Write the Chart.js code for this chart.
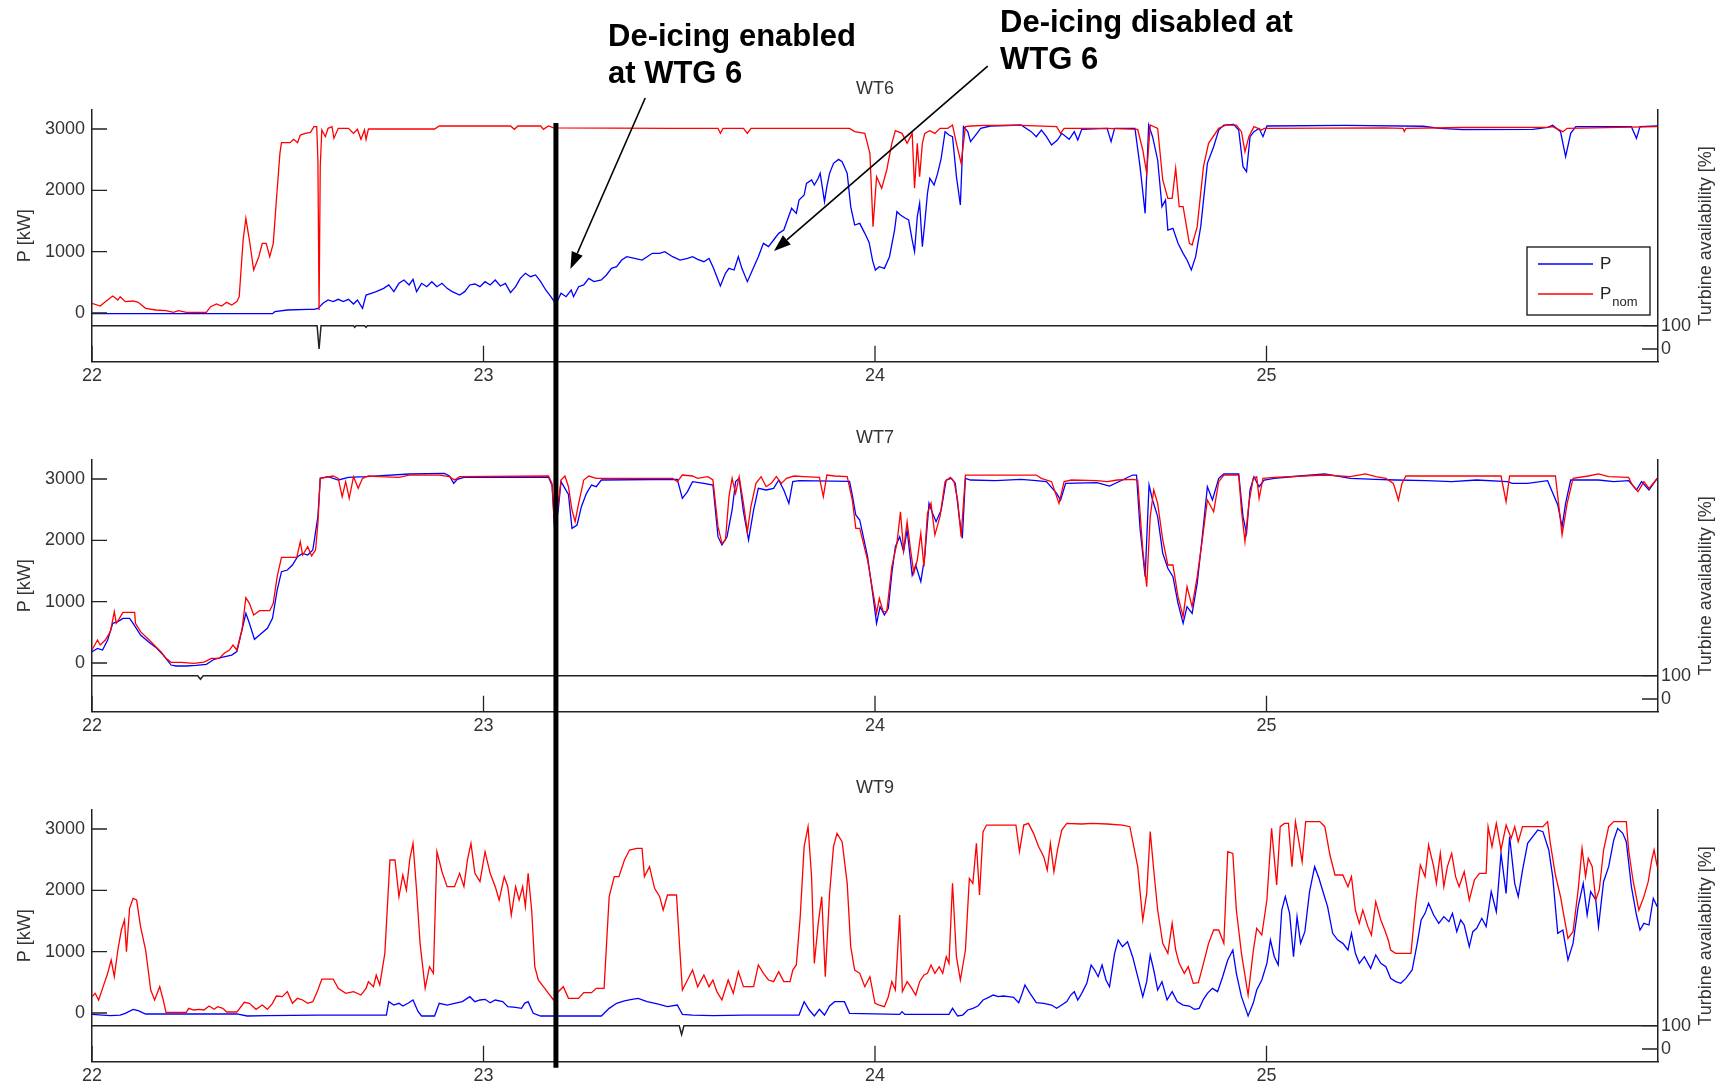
<!DOCTYPE html>
<html>
<head>
<meta charset="utf-8">
<title>WT6 / WT7 / WT9 power and availability</title>
<script src="https://cdn.jsdelivr.net/npm/chart.js@4.4.1/dist/chart.umd.min.js"></script>
<style>
  html, body { margin: 0; padding: 0; background: #fff; }
  #page { position: relative; width: 1729px; height: 1088px; overflow: hidden; }
  canvas { position: absolute; left: 0; }
</style>
</head>
<body>
<div id="page">
  <canvas id="wt6" width="1729" height="388" style="top:0px"></canvas>
  <canvas id="wt7" width="1729" height="350" style="top:388px"></canvas>
  <canvas id="wt9" width="1729" height="350" style="top:738px"></canvas>
</div>
<script>
// time axis in days, power in kW, availability in %
const dayTicks = [22, 23, 24, 25];
const powerTicks = [0, 1000, 2000, 3000];
const availTicks = [0, 100];
const deicingDay = 23.185;

// WT6
const wt6Pnom = [
  [22.000,158],[22.021,114],[22.034,185],[22.053,277],[22.066,212],[22.072,266],[22.085,185],[22.105,196],[22.118,174],
  [22.137,76],[22.163,49],[22.189,38],[22.208,11],[22.221,38],[22.241,11],[22.292,11],[22.303,103],[22.318,147],
  [22.331,114],[22.344,174],[22.357,130],[22.370,185],[22.376,266],[22.386,1190],[22.393,1544],[22.402,1190],[22.413,701],
  [22.426,918],[22.435,1136],[22.445,1136],[22.454,918],[22.463,1136],[22.471,1842],[22.480,2603],[22.484,2777],[22.506,2777],
  [22.515,2832],[22.525,2777],[22.532,2902],[22.545,2929],[22.558,2946],[22.567,3038],[22.574,3038],[22.577,2495],[22.580,49],
  [22.583,2386],[22.587,2984],[22.596,2875],[22.603,3011],[22.613,3038],[22.618,2848],[22.629,3011],[22.655,3011],[22.668,2929],
  [22.678,2995],[22.687,2832],[22.696,2984],[22.700,2832],[22.706,3000],[22.875,3000],[22.887,3049],[23.069,3049],[23.079,2995],
  [23.088,3049],[23.146,3049],[23.153,2995],[23.166,3049],[23.179,3020],[23.483,3011],[23.599,3011],[23.605,2929],[23.612,3011],
  [23.664,3011],[23.674,2929],[23.683,3011],[23.935,3011],[23.948,2957],[23.974,2929],[23.987,2603],[23.995,1408],[24.004,2223],
  [24.017,2033],[24.030,2332],[24.043,2766],[24.052,2973],[24.069,2929],[24.082,2766],[24.095,2929],[24.101,2033],[24.108,2766],
  [24.114,2223],[24.121,2766],[24.127,2929],[24.140,2973],[24.153,2929],[24.166,3011],[24.186,3011],[24.198,3065],[24.208,2766],
  [24.220,2440],[24.231,3038],[24.244,3049],[24.283,3060],[24.373,3060],[24.464,3038],[24.474,2929],[24.483,3011],[24.593,3011],
  [24.671,2995],[24.684,2658],[24.694,2277],[24.703,3065],[24.722,3011],[24.735,2169],[24.748,1870],[24.759,1870],[24.768,2359],
  [24.777,1734],[24.787,1734],[24.803,1136],[24.810,1109],[24.823,1408],[24.839,2386],[24.852,2766],[24.878,3011],[24.897,3065],
  [24.923,3065],[24.936,2957],[24.945,2631],[24.955,2875],[24.968,3038],[24.988,2984],[24.994,3011],[25.300,3020],[25.349,3011],
  [25.352,2960],[25.356,3011],[25.500,3025],[25.718,3027],[25.731,3038],[25.757,2957],[25.768,3011],[25.998,3038]
];
const wt6P = [
  [22.000,-11],[22.461,-11],[22.467,22],[22.499,49],[22.551,60],[22.567,60],[22.577,76],[22.590,158],[22.603,212],[22.616,185],
  [22.629,223],[22.642,185],[22.655,223],[22.668,147],[22.678,212],[22.691,76],[22.700,293],[22.713,321],[22.726,348],[22.745,402],
  [22.758,457],[22.771,348],[22.784,484],[22.797,538],[22.810,457],[22.820,549],[22.829,348],[22.842,484],[22.855,429],[22.868,511],
  [22.881,429],[22.894,484],[22.907,402],[22.920,348],[22.939,293],[22.952,348],[22.965,457],[22.978,473],[22.991,429],[23.004,511],
  [23.017,457],[23.030,538],[23.043,440],[23.056,484],[23.069,332],[23.082,429],[23.094,565],[23.107,647],[23.120,592],[23.133,620],
  [23.146,511],[23.159,375],[23.172,266],[23.185,147],[23.198,321],[23.211,266],[23.224,375],[23.230,266],[23.243,429],[23.256,457],
  [23.269,565],[23.282,511],[23.301,538],[23.314,620],[23.327,728],[23.340,755],[23.353,864],[23.366,918],[23.386,891],[23.405,864],
  [23.418,918],[23.431,973],[23.450,973],[23.463,1000],[23.483,918],[23.502,864],[23.521,891],[23.534,918],[23.547,875],[23.563,837],
  [23.576,891],[23.586,755],[23.596,592],[23.605,440],[23.618,647],[23.627,728],[23.640,701],[23.651,918],[23.660,728],[23.674,511],
  [23.687,701],[23.702,918],[23.715,1136],[23.728,1082],[23.741,1190],[23.754,1299],[23.767,1353],[23.787,1707],[23.799,1625],
  [23.806,1842],[23.819,1924],[23.825,2114],[23.838,2169],[23.845,2087],[23.855,2196],[23.860,2277],[23.871,1815],[23.877,2060],
  [23.884,2277],[23.894,2440],[23.907,2505],[23.916,2467],[23.929,2277],[23.938,1734],[23.948,1435],[23.961,1462],[23.974,1299],
  [23.985,1150],[23.994,850],[24.001,701],[24.011,755],[24.024,728],[24.037,918],[24.050,1353],[24.056,1652],[24.065,1598],
  [24.078,1544],[24.086,1516],[24.095,1190],[24.101,1000],[24.108,1570],[24.114,1788],[24.121,1082],[24.127,1462],[24.134,1951],
  [24.140,2196],[24.151,2087],[24.160,2277],[24.169,2522],[24.179,2957],[24.189,2902],[24.198,2875],[24.208,2223],[24.218,1761],
  [24.226,3038],[24.237,2957],[24.244,2794],[24.257,2902],[24.270,3011],[24.295,3049],[24.373,3065],[24.399,2957],[24.412,2875],
  [24.425,2984],[24.438,2875],[24.451,2739],[24.466,2821],[24.477,2929],[24.496,2832],[24.509,2957],[24.518,2821],[24.528,2995],
  [24.593,3011],[24.603,2794],[24.612,3011],[24.664,3011],[24.677,2386],[24.690,1625],[24.699,3065],[24.709,2875],[24.722,2495],
  [24.733,1734],[24.742,1842],[24.748,1353],[24.761,1380],[24.774,1136],[24.787,973],[24.797,864],[24.808,701],[24.819,918],
  [24.832,1408],[24.849,2440],[24.865,2712],[24.878,2984],[24.891,3065],[24.916,3076],[24.929,2984],[24.940,2386],[24.949,2304],
  [24.958,2875],[24.968,2957],[24.981,3011],[24.991,2875],[25.001,3049],[25.200,3060],[25.400,3045],[25.443,3011],[25.500,2990],
  [25.680,2995],[25.718,3027],[25.731,3060],[25.751,2957],[25.764,2549],[25.777,2929],[25.790,3038],[25.932,3038],[25.945,2848],
  [25.954,3038],[25.998,3049]
];
const wt6Avail = [[22,100],[22.575,100],[22.580,0],[22.585,100],[22.668,100],[22.671,93],[22.674,100],[22.696,100],[22.700,93],[22.703,100],[26,100]];

// WT7
const wt7Pnom = [
  [22.000,212],[22.014,375],[22.021,293],[22.034,375],[22.047,511],[22.057,837],[22.062,647],[22.070,728],[22.079,826],[22.109,826],
  [22.111,647],[22.124,511],[22.144,386],[22.163,266],[22.176,185],[22.189,76],[22.202,11],[22.228,11],[22.260,-5],[22.286,16],
  [22.305,76],[22.325,76],[22.338,158],[22.351,212],[22.360,293],[22.370,212],[22.383,538],[22.393,1065],[22.402,973],[22.413,783],
  [22.428,853],[22.454,853],[22.463,973],[22.473,1408],[22.484,1723],[22.523,1723],[22.532,1978],[22.538,1761],[22.551,1897],
  [22.561,1745],[22.571,1842],[22.577,2277],[22.583,3011],[22.616,3049],[22.629,3011],[22.639,2712],[22.648,2957],[22.657,2685],
  [22.668,3038],[22.680,2848],[22.691,3011],[22.706,3049],[22.732,3038],[22.784,3027],[22.810,3065],[22.887,3065],[22.913,3038],
  [22.926,2984],[22.939,3038],[23.166,3049],[23.175,2929],[23.182,2200],[23.191,2600],[23.198,2984],[23.208,3049],[23.217,2875],
  [23.226,2495],[23.234,2304],[23.243,2603],[23.256,2984],[23.269,3049],[23.288,3011],[23.483,3011],[23.495,2957],[23.508,3065],
  [23.534,3049],[23.547,3011],[23.573,3038],[23.586,2984],[23.599,2223],[23.609,1951],[23.618,2006],[23.627,2712],[23.635,3011],
  [23.644,2766],[23.653,3038],[23.664,2603],[23.674,2141],[23.683,2549],[23.696,2929],[23.709,3038],[23.722,2875],[23.735,2929],
  [23.748,3038],[23.761,2929],[23.774,3011],[23.793,3049],[23.819,3038],[23.858,3027],[23.868,2712],[23.877,3065],[23.897,3049],
  [23.929,3038],[23.942,2658],[23.951,2196],[23.961,2196],[23.981,1679],[23.994,1190],[24.004,810],[24.011,1054],[24.021,837],
  [24.030,837],[24.043,1571],[24.056,1951],[24.065,2467],[24.073,1842],[24.082,2304],[24.091,1842],[24.099,1462],[24.108,1679],
  [24.117,2114],[24.125,1571],[24.134,2440],[24.143,2603],[24.153,2087],[24.166,2386],[24.179,2957],[24.192,3027],[24.202,2957],
  [24.211,2658],[24.220,2060],[24.231,3065],[24.412,3065],[24.425,3011],[24.451,2957],[24.470,2603],[24.483,2957],[24.502,2984],
  [24.567,2973],[24.593,2957],[24.619,2984],[24.658,2995],[24.671,2984],[24.684,1842],[24.694,1245],[24.703,2386],[24.712,2821],
  [24.722,2603],[24.735,2006],[24.748,1598],[24.761,1598],[24.774,1082],[24.787,755],[24.797,1245],[24.810,918],[24.823,1408],
  [24.836,2006],[24.849,2658],[24.865,2467],[24.878,2957],[24.891,3065],[24.929,3065],[24.936,2495],[24.945,1978],[24.955,2603],
  [24.966,3011],[24.975,3038],[24.981,2685],[24.991,3011],[25.020,3027],[25.149,3065],[25.214,3038],[25.253,3082],[25.279,3038],
  [25.305,3011],[25.324,2929],[25.337,2657],[25.346,2929],[25.356,3049],[25.599,3049],[25.612,2630],[25.621,3049],[25.738,3049],
  [25.747,2549],[25.755,2087],[25.768,2603],[25.783,3011],[25.822,3049],[25.848,3082],[25.874,3038],[25.925,3027],[25.932,2929],
  [25.949,2794],[25.964,2957],[25.977,2848],[25.998,3011]
];
const wt7P = [
  [22.000,185],[22.014,239],[22.027,212],[22.040,375],[22.053,647],[22.066,674],[22.079,728],[22.096,728],[22.105,647],[22.124,457],
  [22.144,348],[22.163,255],[22.182,130],[22.202,-33],[22.215,-49],[22.241,-49],[22.266,-38],[22.292,-22],[22.312,60],[22.331,92],
  [22.357,130],[22.370,185],[22.383,538],[22.393,810],[22.402,647],[22.415,386],[22.428,457],[22.448,565],[22.461,728],[22.473,1190],
  [22.484,1489],[22.499,1516],[22.512,1598],[22.525,1734],[22.538,1788],[22.551,1761],[22.564,1842],[22.577,2386],[22.583,3011],
  [22.603,3038],[22.629,2984],[22.655,3027],[22.700,3038],[22.810,3082],[22.900,3092],[22.913,3049],[22.924,2929],[22.933,2995],
  [22.950,3027],[23.166,3027],[23.175,2900],[23.182,2150],[23.191,2500],[23.198,2957],[23.217,2747],[23.226,2196],[23.239,2250],
  [23.250,2549],[23.263,2766],[23.276,2902],[23.288,2875],[23.301,2984],[23.495,2995],[23.508,2685],[23.521,2794],[23.534,2957],
  [23.563,2929],[23.586,2902],[23.599,2060],[23.609,1924],[23.622,2060],[23.635,2495],[23.644,2957],[23.653,3011],[23.664,2467],
  [23.677,2006],[23.690,2495],[23.702,2848],[23.722,2821],[23.741,2848],[23.754,2984],[23.767,2821],[23.780,2603],[23.790,2957],
  [23.806,2973],[23.935,2962],[23.942,2739],[23.951,2413],[23.961,2332],[23.981,1734],[23.994,1136],[24.004,647],[24.013,918],
  [24.024,783],[24.034,891],[24.043,1462],[24.052,1897],[24.063,2060],[24.073,1815],[24.082,2169],[24.095,1435],[24.104,1598],
  [24.117,1326],[24.127,1734],[24.138,2603],[24.147,2440],[24.156,2304],[24.169,2495],[24.182,2984],[24.195,3011],[24.205,2929],
  [24.215,2386],[24.223,2033],[24.231,3011],[24.244,2984],[24.308,2973],[24.373,2995],[24.412,2973],[24.438,2957],[24.464,2766],
  [24.474,2657],[24.487,2929],[24.567,2940],[24.599,2886],[24.632,2984],[24.658,3065],[24.668,3065],[24.677,2196],[24.690,1408],
  [24.700,2902],[24.709,2658],[24.722,2386],[24.735,1788],[24.748,1544],[24.761,1408],[24.774,973],[24.787,647],[24.797,918],
  [24.810,810],[24.823,1299],[24.836,2060],[24.849,2875],[24.862,2658],[24.878,3011],[24.891,3082],[24.929,3082],[24.940,2386],
  [24.949,2114],[24.958,2821],[24.968,3038],[24.981,2875],[24.994,2984],[25.020,3011],[25.085,3049],[25.149,3082],[25.214,3011],
  [25.279,2995],[25.330,2984],[25.408,2973],[25.473,2957],[25.537,2984],[25.615,2957],[25.628,2929],[25.667,2929],[25.718,2973],
  [25.744,2576],[25.755,2223],[25.764,2603],[25.777,2984],[25.848,2984],[25.887,2957],[25.925,2973],[25.945,2821],[25.958,2957],
  [25.977,2821],[25.998,3011]
];
const wt7Avail = [[22,100],[22.270,100],[22.277,85],[22.284,100],[26,100]];

// WT9
const wt9Pnom = [
  [22.000,266],[22.008,321],[22.017,212],[22.027,402],[22.040,647],[22.049,864],[22.057,592],[22.066,1027],[22.075,1353],[22.083,1516],
  [22.088,1000],[22.096,1707],[22.105,1870],[22.114,1842],[22.124,1408],[22.137,1027],[22.150,375],[22.160,212],[22.173,429],[22.182,212],
  [22.189,11],[22.241,11],[22.247,76],[22.260,49],[22.273,60],[22.286,49],[22.299,114],[22.312,60],[22.321,103],[22.334,76],[22.344,16],
  [22.370,16],[22.389,174],[22.402,158],[22.419,60],[22.435,130],[22.448,60],[22.461,158],[22.471,277],[22.486,266],[22.499,348],
  [22.512,158],[22.525,239],[22.538,212],[22.551,158],[22.564,185],[22.577,375],[22.587,554],[22.616,554],[22.629,402],[22.648,321],
  [22.668,348],[22.687,293],[22.700,402],[22.706,511],[22.719,429],[22.726,620],[22.735,457],[22.748,973],[22.761,2495],[22.774,2495],
  [22.784,1897],[22.794,2250],[22.803,2006],[22.812,2522],[22.820,2766],[22.829,2006],[22.838,1136],[22.851,402],[22.862,755],
  [22.872,647],[22.881,2630],[22.894,2304],[22.907,2060],[22.926,2060],[22.939,2277],[22.950,2060],[22.959,2495],[22.968,2766],
  [22.978,2277],[22.991,2141],[23.004,2630],[23.017,2277],[23.030,2060],[23.040,1842],[23.053,2223],[23.062,2060],[23.071,1598],
  [23.082,2060],[23.091,1842],[23.100,2060],[23.107,1734],[23.114,2277],[23.123,1679],[23.131,755],[23.140,538],[23.153,429],
  [23.166,321],[23.179,212],[23.191,348],[23.204,429],[23.217,239],[23.243,239],[23.256,332],[23.276,332],[23.288,402],[23.308,402],
  [23.321,1897],[23.334,2223],[23.346,2223],[23.360,2495],[23.373,2657],[23.392,2685],[23.405,2685],[23.411,2223],[23.424,2386],
  [23.437,2033],[23.450,1897],[23.459,1679],[23.470,1924],[23.493,1924],[23.502,973],[23.508,375],[23.521,538],[23.534,701],
  [23.547,429],[23.563,620],[23.576,429],[23.586,538],[23.596,348],[23.609,212],[23.625,538],[23.638,321],[23.651,675],[23.664,429],
  [23.690,429],[23.702,783],[23.715,647],[23.728,538],[23.741,511],[23.754,675],[23.767,511],[23.783,511],[23.790,701],[23.799,783],
  [23.809,1571],[23.819,2712],[23.829,3038],[23.838,2223],[23.845,810],[23.855,1462],[23.864,1897],[23.873,592],[23.884,1951],
  [23.894,2712],[23.903,2929],[23.916,2794],[23.929,2114],[23.938,1082],[23.948,701],[23.961,647],[23.974,429],[23.987,592],
  [24.000,158],[24.011,130],[24.024,103],[24.034,266],[24.043,511],[24.052,375],[24.063,1598],[24.070,348],[24.082,511],[24.091,429],
  [24.104,293],[24.114,511],[24.125,620],[24.134,647],[24.143,783],[24.153,647],[24.164,755],[24.173,647],[24.182,918],[24.189,810],
  [24.198,2114],[24.208,918],[24.218,538],[24.231,1027],[24.241,2196],[24.250,2114],[24.259,2766],[24.267,1924],[24.276,2957],
  [24.285,3065],[24.360,3065],[24.369,2631],[24.380,3065],[24.392,3092],[24.405,2929],[24.418,2712],[24.431,2549],[24.440,2332],
  [24.448,2766],[24.457,2304],[24.466,2658],[24.477,2984],[24.490,3092],[24.528,3082],[24.554,3092],[24.593,3082],[24.632,3065],
  [24.651,3038],[24.671,2386],[24.684,1516],[24.694,1951],[24.703,2957],[24.712,2332],[24.722,1679],[24.735,1136],[24.748,973],
  [24.759,1462],[24.768,1027],[24.777,810],[24.790,647],[24.800,755],[24.813,484],[24.826,494],[24.839,810],[24.852,1136],
  [24.865,1353],[24.878,1353],[24.891,1136],[24.901,2630],[24.914,2603],[24.923,1679],[24.936,973],[24.953,293],[24.966,1000],
  [24.975,1380],[24.988,1272],[25.001,1842],[25.013,3011],[25.026,2087],[25.035,3038],[25.046,3092],[25.056,3092],[25.065,2386],
  [25.074,3120],[25.082,2821],[25.091,2467],[25.100,3120],[25.136,3120],[25.149,3038],[25.162,2576],[25.175,2250],[25.195,2250],
  [25.208,2060],[25.217,2223],[25.227,1679],[25.237,1462],[25.246,1679],[25.259,1408],[25.268,1272],[25.279,1815],[25.292,1516],
  [25.302,1353],[25.311,1190],[25.317,1027],[25.330,973],[25.369,973],[25.382,1842],[25.393,2413],[25.405,2223],[25.414,2739],
  [25.427,2386],[25.434,2114],[25.444,2603],[25.453,2060],[25.462,2386],[25.473,2603],[25.483,2223],[25.492,2060],[25.505,2304],
  [25.518,1842],[25.531,2169],[25.544,2277],[25.561,2277],[25.566,3038],[25.576,2712],[25.587,3092],[25.599,2658],[25.612,3065],
  [25.625,2848],[25.634,3038],[25.643,2794],[25.654,3038],[25.706,3038],[25.718,3120],[25.725,2766],[25.738,2250],[25.751,1897],
  [25.760,1571],[25.770,1217],[25.783,1326],[25.796,2006],[25.806,2685],[25.815,2223],[25.822,2522],[25.832,2386],[25.841,1842],
  [25.850,2006],[25.861,2658],[25.874,3038],[25.887,3120],[25.919,3120],[25.925,2658],[25.936,2169],[25.951,1679],[25.964,1897],
  [25.975,2141],[25.984,2495],[25.990,2658],[25.998,2386]
];
const wt9P = [
  [22.000,-22],[22.027,-33],[22.047,-43],[22.072,-33],[22.085,-5],[22.105,60],[22.118,38],[22.137,-16],[22.370,-16],[22.396,-49],
  [22.448,-43],[22.577,-33],[22.752,-33],[22.758,185],[22.771,130],[22.784,158],[22.794,114],[22.807,158],[22.820,212],[22.833,22],
  [22.842,-49],[22.875,-49],[22.887,158],[22.907,130],[22.926,158],[22.946,185],[22.965,266],[22.978,185],[22.991,212],[23.004,223],
  [23.017,168],[23.030,212],[23.049,185],[23.062,103],[23.082,92],[23.097,76],[23.105,158],[23.114,185],[23.127,-5],[23.146,-49],
  [23.301,-49],[23.321,76],[23.340,158],[23.360,196],[23.379,223],[23.395,239],[23.418,185],[23.444,147],[23.470,103],[23.495,130],
  [23.508,-22],[23.534,-33],[23.586,-43],[23.664,-33],[23.806,-33],[23.819,185],[23.832,49],[23.845,-49],[23.858,60],[23.871,-33],
  [23.884,114],[23.897,185],[23.922,185],[23.935,-5],[24.063,-22],[24.069,22],[24.076,-22],[24.189,-22],[24.198,76],[24.211,-49],
  [24.224,-33],[24.237,49],[24.250,76],[24.263,114],[24.276,212],[24.289,250],[24.302,293],[24.315,266],[24.328,277],[24.341,266],
  [24.354,255],[24.367,168],[24.376,321],[24.383,457],[24.396,321],[24.412,168],[24.431,158],[24.451,130],[24.464,76],[24.477,130],
  [24.490,185],[24.500,293],[24.509,348],[24.518,212],[24.528,321],[24.541,484],[24.552,783],[24.561,701],[24.570,592],[24.580,783],
  [24.590,538],[24.599,429],[24.612,973],[24.621,1190],[24.632,1082],[24.645,1163],[24.658,918],[24.671,592],[24.684,266],[24.694,511],
  [24.703,946],[24.712,701],[24.722,375],[24.733,511],[24.746,212],[24.759,348],[24.772,185],[24.787,130],[24.803,114],[24.816,60],
  [24.828,76],[24.839,223],[24.849,321],[24.862,402],[24.875,348],[24.888,592],[24.901,864],[24.914,1027],[24.923,647],[24.936,266],
  [24.953,-49],[24.966,158],[24.975,375],[24.988,538],[25.001,810],[25.010,1190],[25.020,918],[25.030,783],[25.039,1679],[25.048,1897],
  [25.059,1625],[25.069,918],[25.078,1571],[25.087,1136],[25.098,1326],[25.110,1978],[25.123,2386],[25.134,2196],[25.143,2006],
  [25.156,1734],[25.169,1299],[25.182,1190],[25.195,1136],[25.208,1027],[25.217,1299],[25.227,973],[25.237,810],[25.250,918],
  [25.266,728],[25.279,946],[25.292,810],[25.305,755],[25.317,565],[25.330,511],[25.343,484],[25.356,565],[25.372,701],[25.385,1136],
  [25.395,1516],[25.405,1625],[25.414,1788],[25.427,1598],[25.440,1462],[25.453,1571],[25.466,1489],[25.475,1625],[25.486,1326],
  [25.496,1516],[25.505,1435],[25.518,1082],[25.527,1326],[25.537,1380],[25.550,1544],[25.561,1408],[25.574,1978],[25.587,1652],
  [25.599,2603],[25.612,1951],[25.621,2875],[25.634,2114],[25.643,1897],[25.654,2331],[25.667,2766],[25.680,2875],[25.693,2984],
  [25.706,2957],[25.721,2658],[25.731,2223],[25.744,1299],[25.757,1353],[25.770,864],[25.783,1136],[25.796,1734],[25.809,2114],
  [25.819,1598],[25.828,1978],[25.841,1842],[25.848,1408],[25.861,2141],[25.874,2386],[25.887,2821],[25.897,3011],[25.910,2929],
  [25.919,2794],[25.932,2060],[25.945,1598],[25.954,1353],[25.964,1462],[25.977,1435],[25.988,1870],[25.998,1734]
];
const wt9Avail = [[22,100],[23.500,100],[23.506,62],[23.512,100],[26,100]];

// call-outs: text lines, text anchor (px), arrow from / to in (day, kW)
const notes = [
  { lines: ['De-icing enabled', 'at WTG 6'], left: 608, baseline: 46, from: [23.413, 3505], to: [23.222, 717] },
  { lines: ['De-icing disabled at', 'WTG 6'], left: 1000, baseline: 32, from: [24.288, 4027], to: [23.742, 1011] }
];

const FONT = '"Liberation Sans", Arial, Helvetica, sans-serif';
const INK = '#222';

function toXY(pairs) {
  return pairs.map(function (p) { return { x: p[0], y: p[1] }; });
}

function plain(v) { return String(v); }

function drawArrow(ctx, x0, y0, x1, y1) {
  var ang = Math.atan2(y1 - y0, x1 - x0);
  var len = 17, half = 6;
  var bx = x1 - len * Math.cos(ang), by = y1 - len * Math.sin(ang);
  ctx.lineWidth = 1.6;
  ctx.beginPath();
  ctx.moveTo(x0, y0);
  ctx.lineTo(bx, by);
  ctx.stroke();
  ctx.beginPath();
  ctx.moveTo(x1, y1);
  ctx.lineTo(bx + half * Math.sin(ang), by - half * Math.cos(ang));
  ctx.lineTo(bx - half * Math.sin(ang), by + half * Math.cos(ang));
  ctx.closePath();
  ctx.fill();
}

function drawLegend(chart) {
  var ctx = chart.ctx, a = chart.chartArea;
  var w = 123, h = 68;
  var x = a.right - 8 - w, y = a.top + 137;
  ctx.fillStyle = '#fff';
  ctx.fillRect(x, y, w, h);
  ctx.strokeStyle = '#111';
  ctx.lineWidth = 1.3;
  ctx.strokeRect(x, y, w, h);
  var items = chart.data.datasets.filter(function (d) { return d.inLegend; });
  items.sort(function (p, q) { return p.inLegend - q.inLegend; });
  items.forEach(function (d, i) {
    var ly = y + 17 + i * 30;
    ctx.strokeStyle = d.borderColor;
    ctx.lineWidth = 1.5;
    ctx.beginPath();
    ctx.moveTo(x + 11, ly);
    ctx.lineTo(x + 66, ly);
    ctx.stroke();
    var parts = d.label.split('_');
    ctx.fillStyle = INK;
    ctx.textBaseline = 'middle';
    ctx.textAlign = 'left';
    ctx.font = '17px ' + FONT;
    ctx.fillText(parts[0], x + 73, ly);
    if (parts[1]) {
      var pw = ctx.measureText(parts[0]).width;
      ctx.font = '13px ' + FONT;
      ctx.fillText(parts[1], x + 74 + pw, ly + 8);
    }
  });
}

const decor = {
  id: 'decor',
  afterDatasetsDraw: function (chart, args, o) {
    var ctx = chart.ctx, a = chart.chartArea;
    var xs = chart.scales.x, ys = chart.scales.y, ya = chart.scales.avail;
    ctx.save();
    // inward tick marks
    ctx.strokeStyle = INK;
    ctx.lineWidth = 1.3;
    ctx.beginPath();
    dayTicks.forEach(function (d) {
      var px = xs.getPixelForValue(d);
      ctx.moveTo(px, a.bottom);
      ctx.lineTo(px, a.bottom - 16);
    });
    powerTicks.forEach(function (v) {
      var py = ys.getPixelForValue(v);
      ctx.moveTo(a.left, py);
      ctx.lineTo(a.left + 15, py);
    });
    availTicks.forEach(function (v) {
      var py = ya.getPixelForValue(v);
      ctx.moveTo(a.right, py);
      ctx.lineTo(a.right - 16, py);
    });
    ctx.stroke();

    // right axis title, read bottom to top
    ctx.save();
    ctx.translate(1706, (a.top + a.bottom) / 2);
    ctx.rotate(-Math.PI / 2);
    ctx.fillStyle = '#333';
    ctx.font = '18px ' + FONT;
    ctx.textAlign = 'center';
    ctx.textBaseline = 'middle';
    ctx.fillText('Turbine availability [%]', 0, 0);
    ctx.restore();

    if (o.legend) drawLegend(chart);

    // de-icing switch time
    var mx = xs.getPixelForValue(deicingDay);
    var top = o.markerTopKW == null ? 0 : ys.getPixelForValue(o.markerTopKW);
    var bottom = o.markerToEdge ? chart.height : a.bottom + 6;
    ctx.strokeStyle = '#000';
    ctx.lineWidth = 5;
    ctx.beginPath();
    ctx.moveTo(mx, top);
    ctx.lineTo(mx, bottom);
    ctx.stroke();

    if (o.notes) {
      ctx.fillStyle = '#000';
      ctx.strokeStyle = '#000';
      o.notes.forEach(function (n) {
        ctx.font = 'bold 31px ' + FONT;
        ctx.textAlign = 'left';
        ctx.textBaseline = 'alphabetic';
        n.lines.forEach(function (t, i) { ctx.fillText(t, n.left, n.baseline + i * 37); });
        drawArrow(ctx,
          xs.getPixelForValue(n.from[0]), ys.getPixelForValue(n.from[1]),
          xs.getPixelForValue(n.to[0]), ys.getPixelForValue(n.to[1]));
      });
    }
    ctx.restore();
  }
};

function makePanel(id, title, p, pNom, avail, titlePad, decorOpts) {
  var tickFont = { family: FONT, size: 18 };
  return new Chart(document.getElementById(id), {
    type: 'line',
    data: {
      datasets: [
        { label: 'P_nom', data: toXY(pNom), borderColor: '#ff0000', yAxisID: 'y', order: 1, inLegend: 2 },
        { label: 'P', data: toXY(p), borderColor: '#0000ff', yAxisID: 'y', order: 2, inLegend: 1 },
        { label: 'availability', data: toXY(avail), borderColor: INK, borderWidth: 1.5, yAxisID: 'avail', order: 3 }
      ]
    },
    options: {
      responsive: false,
      animation: false,
      events: [],
      layout: { padding: 0 },
      elements: { point: { radius: 0 }, line: { borderWidth: 1.3, tension: 0, fill: false } },
      plugins: {
        legend: { display: false },
        tooltip: { enabled: false },
        title: {
          display: true, text: title, color: '#333', fullSize: false,
          font: { family: FONT, size: 18, weight: 'normal' },
          padding: titlePad
        },
        decor: decorOpts
      },
      scales: {
        x: {
          type: 'linear', min: 22, max: 26,
          afterBuildTicks: function (s) { s.ticks = dayTicks.map(function (v) { return { value: v }; }); },
          afterFit: function (s) { s.height = 26.3; },
          grid: { drawOnChartArea: false, drawTicks: false },
          border: { color: INK, width: 1.5 },
          ticks: { font: tickFont, color: '#333', padding: 4, maxRotation: 0, autoSkip: false, callback: plain }
        },
        y: {
          position: 'left', min: -794, max: 3310,
          afterBuildTicks: function (s) { s.ticks = powerTicks.map(function (v) { return { value: v }; }); },
          afterFit: function (s) { s.width = 92; },
          grid: { drawOnChartArea: false, drawTicks: false },
          border: { color: INK, width: 1.5 },
          ticks: { font: tickFont, color: '#333', padding: 7, callback: plain },
          title: { display: true, text: 'P [kW]', color: '#333', font: { family: FONT, size: 18 }, padding: { top: 14, bottom: 0 } }
        },
        avail: {
          position: 'right', min: -54.5, max: 1025.8,
          afterBuildTicks: function (s) { s.ticks = availTicks.map(function (v) { return { value: v }; }); },
          afterFit: function (s) { s.width = 71; },
          grid: { drawOnChartArea: false, drawTicks: false },
          border: { color: INK, width: 1.5 },
          ticks: { font: tickFont, color: '#333', padding: 3, callback: plain }
        }
      }
    },
    plugins: [decor]
  });
}

makePanel('wt6', 'WT6', wt6P, wt6Pnom, wt6Avail, { top: 78.2, bottom: 10.2 },
  { legend: true, markerTopKW: 3100, markerToEdge: true, notes: notes });
makePanel('wt7', 'WT7', wt7P, wt7Pnom, wt7Avail, { top: 39.2, bottom: 11.2 },
  { markerToEdge: true });
makePanel('wt9', 'WT9', wt9P, wt9Pnom, wt9Avail, { top: 39.2, bottom: 11.2 },
  { markerToEdge: false });
</script>
</body>
</html>
